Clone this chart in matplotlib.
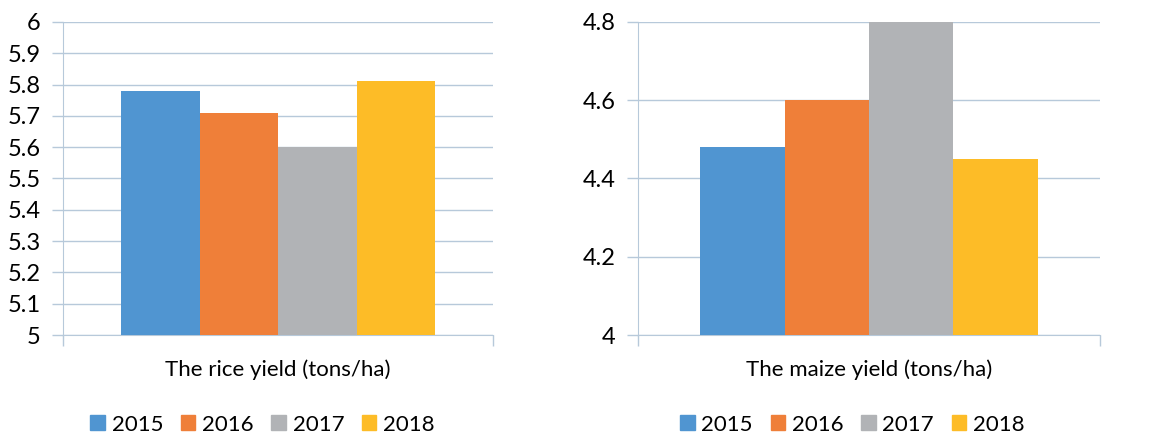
import numpy as np
import matplotlib.pyplot as plt
from matplotlib.patches import Patch

# data
years = ['2015', '2016', '2017', '2018']
rice_yield = [5.78, 5.71, 5.60, 5.81]
maize_yield = [4.48, 4.60, 4.80, 4.45]
rice_label = 'The rice yield (tons/ha)'
maize_label = 'The maize yield (tons/ha)'
rice_ticks = [5.0, 5.1, 5.2, 5.3, 5.4, 5.5, 5.6, 5.7, 5.8, 5.9, 6.0]
rice_ticklabels = ['5', '5.1', '5.2', '5.3', '5.4', '5.5', '5.6', '5.7', '5.8', '5.9', '6']
maize_ticks = [4.0, 4.2, 4.4, 4.6, 4.8]
maize_ticklabels = ['4', '4.2', '4.4', '4.6', '4.8']

colors = ['#5095D1', '#EF7F39', '#B1B3B6', '#FDBC27']
grid_col = '#B7C9DA'

plt.rcParams['font.family'] = ['Lato', 'DejaVu Sans']


def draw_panel(ax, values, label, ticks, ticklabels, ylim):
    width = 0.73 / len(values)
    for i, (v, c) in enumerate(zip(values, colors)):
        x = (i - (len(values) - 1) / 2) * width
        ax.bar(x, v - ylim[0], width, bottom=ylim[0], color=c, zorder=3)
    ax.set_xlim(-0.5, 0.5)
    ax.set_ylim(*ylim)
    ax.set_yticks(ticks)
    ax.set_yticklabels(ticklabels, fontsize=17)
    ax.set_xticks([-0.5, 0.5])
    ax.set_xticklabels(['', ''])
    ax.tick_params(axis='x', length=8, color=grid_col, width=1)
    ax.tick_params(axis='y', length=8, color=grid_col, width=1, pad=8)
    ax.yaxis.grid(True, color=grid_col, linewidth=1, zorder=0)
    for s in ['top', 'right']:
        ax.spines[s].set_visible(False)
    ax.spines['left'].set_color(grid_col)
    ax.spines['bottom'].set_color(grid_col)
    ax.set_xlabel(label, fontsize=16, labelpad=6)
    handles = [Patch(color=c) for c in colors]
    ax.legend(handles, years, loc='upper center', bbox_to_anchor=(0.464, -0.19),
              ncol=4, frameon=False, fontsize=16, handlelength=0.65,
              handleheight=0.65, handletextpad=0.3, columnspacing=0.8)


fig = plt.figure(figsize=(11.59, 4.38), dpi=100)
ax1 = fig.add_axes([0.0544, 0.235, 0.371, 0.715])
ax2 = fig.add_axes([0.5505, 0.235, 0.3985, 0.715])

draw_panel(ax1, rice_yield, rice_label, rice_ticks, rice_ticklabels, (5.0, 6.0))
draw_panel(ax2, maize_yield, maize_label, maize_ticks, maize_ticklabels, (4.0, 4.8))

fig.savefig('out.png', dpi=100)
